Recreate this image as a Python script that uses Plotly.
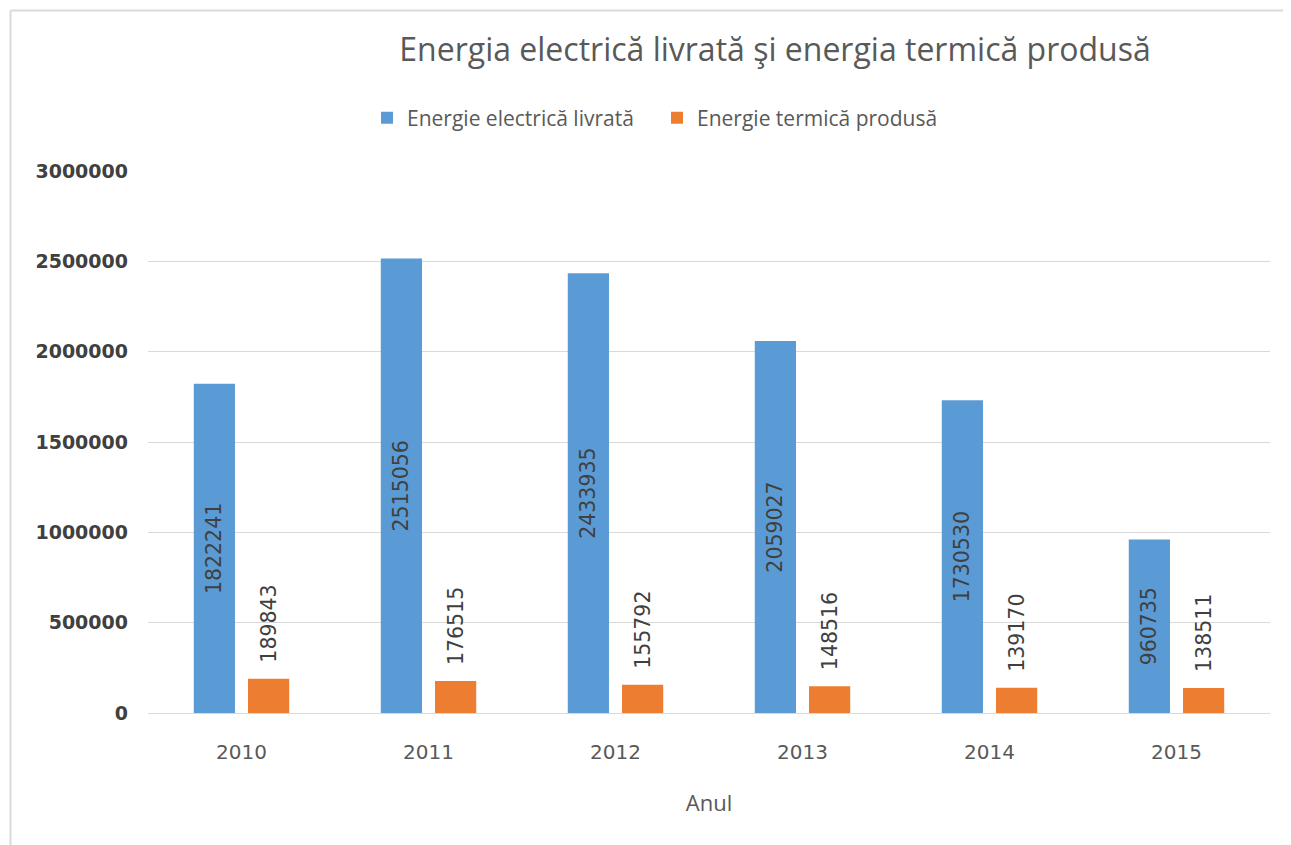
import plotly.graph_objects as go

years = ["2010", "2011", "2012", "2013", "2014", "2015"]
electric = [1822241, 2515056, 2433935, 2059027, 1730530, 960735]
thermal = [189843, 176515, 155792, 148516, 139170, 138511]
y_ticks = [0, 500000, 1000000, 1500000, 2000000, 2500000, 3000000]

OFF = 8  # page body margin
W, H = 1291 - OFF, 845 - OFF
L, R, T, B = 148 - OFF, 1270 - OFF, 171 - OFF, 713 - OFF

def px_x(p):
    return (p - OFF - L) / (R - L)

def px_y(p):
    return (B - (p - OFF)) / (B - T)

fig = go.Figure()
fig.add_trace(go.Bar(
    name="Energie electrică livrată", x=years, y=electric,
    marker=dict(color="#5B9BD5", line=dict(width=0)),
    text=[str(v) for v in electric], textposition="inside",
    insidetextanchor="middle", textangle=-90, constraintext="none",
    insidetextfont=dict(family="DejaVu Sans", size=20.5, color="#404040"),
    cliponaxis=False,
))
fig.add_trace(go.Bar(
    name="Energie termică produsă", x=years, y=thermal,
    marker=dict(color="#ED7D31", line=dict(width=0)),
    text=[str(v) for v in thermal], texttemplate="\u00a0\u00a0%{text}",
    textposition="outside", textangle=-90,
    constraintext="none",
    outsidetextfont=dict(family="DejaVu Sans", size=20.5, color="#404040"),
    cliponaxis=False,
))

fig.update_layout(
    width=W, height=H,
    margin=dict(l=L, r=W - R, t=T, b=H - B, autoexpand=False),
    paper_bgcolor="white", plot_bgcolor="white",
    barmode="group", bargap=0.42, bargroupgap=0.24,
    title=dict(text="Energia electrică livrată şi energia termică produsă",
               x=px_x(775), xref="paper", xanchor="center",
               y=1 - (50 - OFF) / H, yref="container", yanchor="middle",
               font=dict(family="Open Sans", size=32, color="#595959")),
    legend=dict(orientation="h", x=px_x(367), xanchor="left",
                y=px_y(118), yanchor="middle", entrywidth=245,
                entrywidthmode="pixels",
                font=dict(family="Open Sans", size=21, color="#595959"),
                traceorder="normal"),
    xaxis=dict(showgrid=False, showline=True, linecolor="#d9d9d9", linewidth=1,
               ticks="", ticklabelstandoff=21,
               tickfont=dict(family="DejaVu Sans", size=20, color="#595959"),
               title=dict(text="Anul", standoff=32,
                          font=dict(family="Open Sans", size=22, color="#595959"))),
    yaxis=dict(range=[0, 3000000], tickvals=y_ticks,
               ticktext=[str(v) for v in y_ticks],
               showgrid=True, gridcolor="#d9d9d9", gridwidth=1,
               zeroline=False, showline=False, ticks="", ticklabelstandoff=19,
               tickfont=dict(family="DejaVu Sans", size=19, color="#404040",
                             weight="bold")),
    shapes=[
        dict(type="line", xref="paper", yref="paper",
             x0=px_x(10.5), x1=px_x(1291), y0=px_y(10.5), y1=px_y(10.5),
             line=dict(color="#d9d9d9", width=2)),
        dict(type="line", xref="paper", yref="paper",
             x0=px_x(10.5), x1=px_x(10.5), y0=px_y(10.5), y1=px_y(845),
             line=dict(color="#d9d9d9", width=2)),
    ],
)

fig.write_html("out.html")
